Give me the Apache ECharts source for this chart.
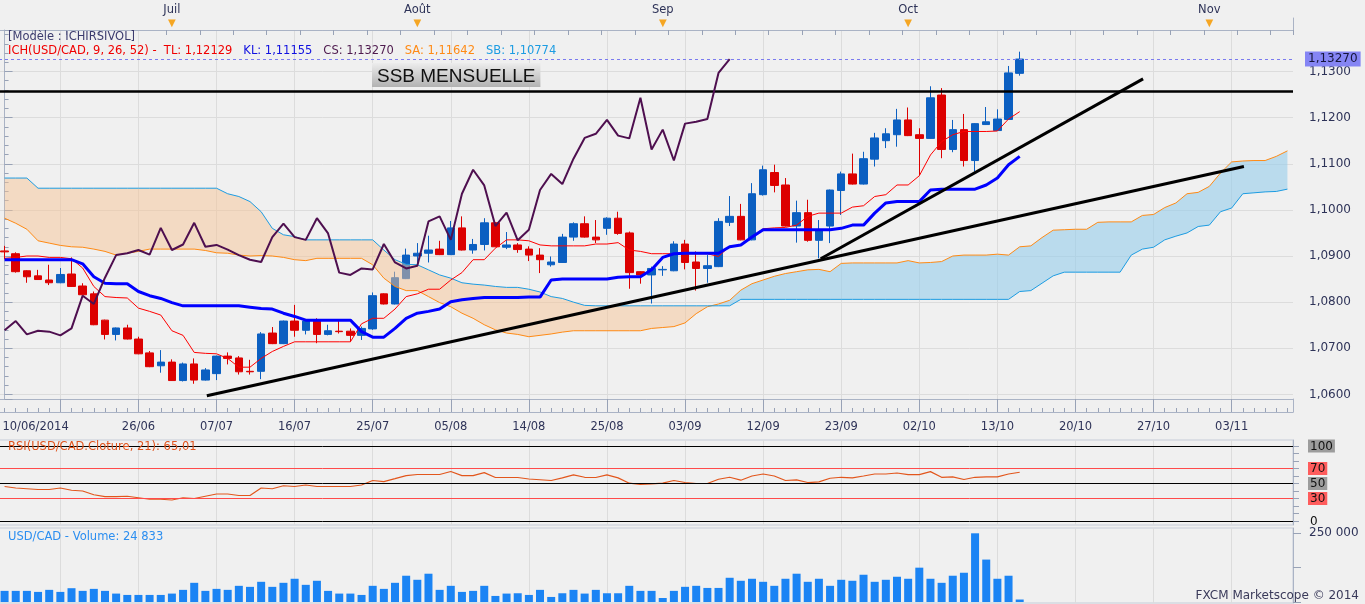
<!DOCTYPE html>
<html>
<head>
<meta charset="utf-8">
<title>USD/CAD - Ichimoku, RSI, Volume</title>
<script src="https://cdn.jsdelivr.net/npm/echarts@6/dist/echarts.min.js"></script>
<style>
  html, body { margin: 0; padding: 0; background: #f0f0f0; }
  #chart { width: 1365px; height: 604px; }
</style>
</head>
<body>
<div id="chart"></div>
<script>
// trading days up to 15/10, then calendar days for the projected cloud
const dates = [
  '10/06','11/06','12/06','13/06','16/06','17/06','18/06','19/06','20/06','23/06','24/06','25/06','26/06','27/06','30/06',
  '01/07','02/07','03/07','04/07','07/07','08/07','09/07','10/07','11/07','14/07','15/07','16/07','17/07','18/07','21/07',
  '22/07','23/07','24/07','25/07','28/07','29/07','30/07','31/07',
  '01/08','04/08','05/08','06/08','07/08','08/08','11/08','12/08','13/08','14/08','15/08','18/08','19/08','20/08','21/08',
  '22/08','25/08','26/08','27/08','28/08','29/08',
  '01/09','02/09','03/09','04/09','05/09','08/09','09/09','10/09','11/09','12/09','15/09','16/09','17/09','18/09','19/09',
  '22/09','23/09','24/09','25/09','26/09','29/09','30/09',
  '01/10','02/10','03/10','06/10','07/10','08/10','09/10','10/10','13/10','14/10','15/10',
  '16/10','17/10','18/10','19/10','20/10','21/10','22/10','23/10','24/10','25/10','26/10','27/10','28/10','29/10','30/10','31/10',
  '01/11','02/11','03/11','04/11','05/11','06/11','07/11','08/11'
];

const opens = [
  1.0911,1.0905,1.0868,1.0857,1.0848,1.0842,1.0861,1.0835,1.0818,1.0761,
  1.0730,1.0744,1.0720,1.0690,1.0662,1.0670,1.0630,1.0666,1.0631,1.0645,
  1.0683,1.0679,1.0650,1.0650,1.0733,1.0710,1.0759,1.0739,1.0759,1.0730,
  1.0737,1.0737,1.0728,1.0742,1.0818,1.0796,1.0851,1.0900,1.0906,1.0915,
  1.0903,1.0961,1.0913,1.0925,1.0972,1.0919,1.0924,1.0915,1.0902,1.0881,
  1.0886,1.0941,1.0970,1.0941,1.0960,1.0982,1.0950,1.0866,1.0859,1.0870,
  1.0868,1.0926,1.0887,1.0873,1.0877,1.0973,1.0986,1.0935,1.1033,1.1081,
  1.1054,1.0965,1.0994,1.0934,1.0965,1.1042,1.1078,1.1056,1.1110,1.1150,
  1.1163,1.1195,1.1163,1.1155,1.1249,1.1131,1.1174,1.1107,1.1185,1.1172,
  1.1196,1.1296
];
const closes = [
  1.0909,1.0866,1.0855,1.0849,1.0842,1.0860,1.0834,1.0816,1.0751,1.0730,
  1.0744,1.0720,1.0688,1.0660,1.0670,1.0630,1.0666,1.0631,1.0653,1.0683,
  1.0678,1.0649,1.0649,1.0731,1.0710,1.0759,1.0739,1.0759,1.0730,1.0738,
  1.0736,1.0728,1.0743,1.0814,1.0796,1.0853,1.0902,1.0906,1.0913,1.0903,
  1.0961,1.0913,1.0925,1.0972,1.0920,1.0924,1.0914,1.0902,1.0892,1.0887,
  1.0941,1.0970,1.0941,1.0935,1.0982,1.0949,1.0864,1.0859,1.0873,1.0871,
  1.0926,1.0886,1.0873,1.0879,1.0975,1.0986,1.0935,1.1035,1.1087,1.1053,
  1.0965,1.0994,1.0934,1.0957,1.1043,1.1078,1.1056,1.1111,1.1156,1.1165,
  1.1195,1.1161,1.1155,1.1243,1.1131,1.1174,1.1107,1.1187,1.1191,1.1197,
  1.1297,1.1327
];
const lows = [
  1.0893,1.0864,1.0842,1.0848,1.0837,1.0841,1.0833,1.0815,1.0750,1.0719,
  1.0717,1.0719,1.0687,1.0659,1.0647,1.0629,1.0628,1.0623,1.0630,1.0631,
  1.0665,1.0643,1.0643,1.0633,1.0709,1.0709,1.0725,1.0730,1.0711,1.0728,
  1.0732,1.0714,1.0718,1.0740,1.0795,1.0795,1.0850,1.0884,1.0886,1.0902,
  1.0902,1.0912,1.0905,1.0912,1.0919,1.0915,1.0907,1.0889,1.0863,1.0877,
  1.0885,1.0933,1.0940,1.0928,1.0946,1.0946,1.0829,1.0840,1.0797,1.0857,
  1.0867,1.0871,1.0825,1.0842,1.0876,1.0965,1.0934,1.0934,1.1031,1.1038,
  1.0964,1.0929,1.0931,1.0895,1.0928,1.0989,1.1055,1.1055,1.1094,1.1134,
  1.1137,1.1160,1.1075,1.1154,1.1112,1.1125,1.1094,1.1083,1.1184,1.1171,
  1.1195,1.1291
];
const highs = [
  1.0922,1.0908,1.0869,1.0870,1.0881,1.0874,1.0897,1.0841,1.0823,1.0762,
  1.0745,1.0751,1.0725,1.0694,1.0696,1.0676,1.0669,1.0678,1.0657,1.0684,
  1.0691,1.0683,1.0675,1.0735,1.0746,1.0760,1.0794,1.0760,1.0765,1.0751,
  1.0759,1.0743,1.0747,1.0821,1.0819,1.0866,1.0916,1.0928,1.0944,1.0933,
  1.0976,1.0986,1.0937,1.0982,1.0973,1.0952,1.0928,1.0921,1.0917,1.0899,
  1.0948,1.0973,1.0986,1.0978,1.0984,1.0996,1.0953,1.0867,1.0877,1.0878,
  1.0932,1.0935,1.0910,1.0902,1.0982,1.1030,1.1013,1.1058,1.1096,1.1098,
  1.1069,1.1020,1.1022,1.0978,1.1044,1.1083,1.1122,1.1126,1.1167,1.1177,
  1.1219,1.1222,1.1177,1.1268,1.1264,1.1195,1.1208,1.1188,1.1223,1.1218,
  1.1312,1.1343
];

const tenkan = [
  1.0895,1.0897,1.0900,1.0900,1.0897,1.0897,1.0894,1.0874,1.0834,1.0812,
  1.0810,1.0809,1.0787,1.0780,1.0772,1.0738,1.0728,1.0691,1.0689,1.0688,
  1.0678,1.0659,1.0659,1.0678,1.0693,1.0704,1.0714,1.0714,1.0714,1.0714,
  1.0714,1.0714,1.0753,1.0765,1.0765,1.0785,1.0812,1.0818,1.0828,1.0828,
  1.0848,1.0864,1.0892,1.0892,1.0917,1.0935,1.0935,1.0933,1.0924,1.0922,
  1.0922,1.0922,1.0922,1.0926,1.0926,1.0929,1.0913,1.0910,1.0905,1.0905,
  1.0905,1.0905,1.0905,1.0905,1.0899,1.0921,1.0924,1.0942,1.0959,1.0961,
  1.0962,1.0967,1.0986,1.0993,1.0993,1.0993,1.1006,1.1009,1.1029,1.1033,
  1.1054,1.1054,1.1074,1.1119,1.1148,1.1163,1.1170,1.1170,1.1170,1.1171,
  1.1197,1.1213
];
const kijun = [
  1.0892,1.0892,1.0892,1.0892,1.0892,1.0892,1.0892,1.0883,1.0855,1.0841,
  1.0840,1.0840,1.0823,1.0814,1.0808,1.0799,1.0792,1.0792,1.0792,1.0792,
  1.0792,1.0792,1.0789,1.0786,1.0785,1.0776,1.0769,1.0761,1.0761,1.0761,
  1.0761,1.0761,1.0736,1.0724,1.0724,1.0743,1.0765,1.0776,1.0780,1.0785,
  1.0801,1.0805,1.0808,1.0810,1.0810,1.0810,1.0810,1.0811,1.0811,1.0848,
  1.0850,1.0850,1.0850,1.0850,1.0850,1.0854,1.0855,1.0855,1.0870,1.0897,
  1.0905,1.0906,1.0906,1.0906,1.0906,1.0920,1.0924,1.0941,1.0957,1.0957,
  1.0957,1.0957,1.0957,1.0957,1.0957,1.0960,1.0967,1.0967,1.0993,1.1015,
  1.1018,1.1018,1.1018,1.1043,1.1045,1.1045,1.1045,1.1045,1.1054,1.1069,
  1.1098,1.1116
];
// closes plotted 26 bars back
const chikou = [
  1.0739,1.0759,1.0730,1.0738,1.0736,1.0728,1.0743,1.0814,1.0796,1.0853,
  1.0902,1.0906,1.0913,1.0903,1.0961,1.0913,1.0925,1.0972,1.0920,1.0924,
  1.0914,1.0902,1.0892,1.0887,1.0941,1.0970,1.0941,1.0935,1.0982,1.0949,
  1.0864,1.0859,1.0873,1.0871,1.0926,1.0886,1.0873,1.0879,1.0975,1.0986,
  1.0935,1.1035,1.1087,1.1053,1.0965,1.0994,1.0934,1.0957,1.1043,1.1078,
  1.1056,1.1111,1.1156,1.1165,1.1195,1.1161,1.1155,1.1243,1.1131,1.1174,
  1.1107,1.1187,1.1191,1.1197,1.1297,1.1327
];
const senkouA = [
  1.0982,1.0971,1.0958,1.0933,1.0928,1.0923,1.0920,1.0919,1.0915,1.0910,
  1.0902,1.0906,1.0910,1.0915,1.0915,1.0915,1.0915,1.0915,1.0912,1.0907,
  1.0906,1.0902,1.0900,1.0901,1.0900,1.0897,1.0892,1.0890,1.0895,1.0895,
  1.0895,1.0895,1.0895,1.0881,1.0852,1.0834,1.0825,1.0825,1.0812,1.0799,
  1.0790,1.0776,1.0765,1.0751,1.0740,1.0733,1.0730,1.0725,1.0728,1.0731,
  1.0735,1.0738,1.0738,1.0738,1.0738,1.0738,1.0738,1.0738,1.0743,1.0745,
  1.0747,1.0755,1.0775,1.0790,1.0796,1.0804,1.0826,1.0840,1.0848,1.0856,
  1.0862,1.0866,1.0870,1.0871,1.0866,1.0884,1.0885,1.0885,1.0885,1.0885,
  1.0885,1.0890,1.0885,1.0886,1.0888,1.0900,1.0902,1.0902,1.0902,1.0904,
  1.0902,1.0920,1.0922,1.0940,1.0956,1.0957,1.0958,1.0958,1.0973,1.0974,
  1.0974,1.0974,1.0988,1.0990,1.1005,1.1015,1.1035,1.1038,1.1051,1.1080,
  1.1104,1.1106,1.1107,1.1107,1.1116,1.1128
];
const senkouB = [
  1.1069,1.1069,1.1069,1.1047,1.1047,1.1047,1.1047,1.1047,1.1047,1.1047,
  1.1047,1.1047,1.1047,1.1047,1.1047,1.1047,1.1047,1.1047,1.1047,1.1047,
  1.1035,1.1029,1.1018,1.0996,1.0960,1.0946,1.0942,1.0935,1.0935,1.0935,
  1.0935,1.0935,1.0935,1.0935,1.0913,1.0892,1.0882,1.0881,1.0870,1.0859,
  1.0852,1.0842,1.0839,1.0837,1.0834,1.0832,1.0832,1.0828,1.0822,1.0812,
  1.0808,1.0800,1.0793,1.0792,1.0792,1.0792,1.0792,1.0792,1.0792,1.0792,
  1.0792,1.0792,1.0792,1.0792,1.0792,1.0792,1.0806,1.0806,1.0806,1.0806,
  1.0806,1.0806,1.0806,1.0806,1.0806,1.0806,1.0806,1.0806,1.0806,1.0806,
  1.0806,1.0806,1.0806,1.0806,1.0806,1.0806,1.0806,1.0806,1.0806,1.0806,
  1.0806,1.0823,1.0825,1.0841,1.0857,1.0865,1.0865,1.0865,1.0865,1.0865,
  1.0865,1.0902,1.0915,1.0919,1.0935,1.0943,1.0950,1.0964,1.0967,1.0996,
  1.1004,1.1035,1.1037,1.1039,1.1040,1.1045
];

const rsi = [
  46,44,43,42,42,44,41,40,35,32.5,
  32.5,33,31,29,29,28,31,30,33,36,
  36,34,34,44,43,47,46,48,46,46,
  46,46,48,54,52.6,56.5,60.5,62,62,62,
  66,60.5,60.5,64.5,58,58,58,56,55,54,
  57.5,61.4,58.3,58,61.4,57.5,50.4,48.7,49.6,50.4,
  54,51.3,50,50,55.7,58.3,54.4,60,62.7,60,
  54,54.8,51.3,52.2,57,58.3,57.5,60,62.7,62.7,
  64,61.8,61.8,65.8,58.3,58.8,55.3,58.3,58.8,58.8,
  62.7,65.01
];
const rsiLevels = [100, 70, 50, 30, 0];

const volume = [
  40300,40300,40300,36600,44000,36600,50000,40300,47600,40300,
  30500,25600,25600,25600,25600,30500,44000,69500,40300,47600,
  44000,58600,54900,73200,54900,69500,84200,62200,76900,40300,
  30500,30500,25600,58600,47600,69500,95200,80500,102500,44000,
  58600,36600,40300,58600,22000,30500,31700,25600,44000,18300,
  31700,44000,30500,44000,31700,31700,58600,40300,40300,14600,
  40300,55000,58600,51000,51000,87800,76900,84200,73200,58600,
  84200,102500,73200,84200,58600,80500,76900,98800,73200,80500,
  91500,84200,124400,84200,69500,95200,106000,248900,153700,84200,
  95200,9000
];

const monthIdx = [15, 37, 59, 81, 108];
const monthNames = ['Juil', 'Août', 'Sep', 'Oct', 'Nov'];

// drawn trend lines: [bar index, price]
const trendLow = [[18.13, 1.0597], [111.1, 1.1094]];
const trendSteep = [[73.16, 1.0894], [102.06, 1.1284]];
const ssbLevel = 1.1258;

const BULL = '#0b5fc1', BEAR = '#dc0000';
const GRID = '#dcdcdc', AXIS = '#aab3c5', TICK = '#98a2b6', TXT = '#2e3358';

const candleData = opens.map((o, i) => [o, closes[i], lows[i], highs[i]]);
const cloudBase = senkouA.map((a, i) => Math.min(a, senkouB[i]));
const cloudBear = senkouA.map((a, i) => senkouB[i] > a ? +(senkouB[i] - a).toFixed(5) : 0);
const cloudBull = senkouA.map((a, i) => a > senkouB[i] ? +(a - senkouB[i]).toFixed(5) : 0);

const isWeek = (i) => i % 7 === 5;
const isDateLabel = (i) => i === 0 || (i % 7 === 5 && i > 5);
const fmtPrice = (v, d) => v.toFixed(d).replace('.', ',');

const chart = echarts.init(document.getElementById('chart'));

const gridBase = { left: -1, width: 1294, outerBoundsMode: 'none', containLabel: false };
const catBase = { type: 'category', data: dates, boundaryGap: true };
const panelX = (gridIndex) => ({
  ...catBase, gridIndex,
  axisLine: { show: false }, axisTick: { show: false }, axisLabel: { show: false },
  splitLine: { show: true, interval: (i) => isWeek(i), alignWithLabel: true, lineStyle: { color: GRID } }
});
const stripY = (gridIndex) => ({
  type: 'value', gridIndex, position: 'right', min: 0, max: 1,
  axisLine: { show: true, lineStyle: { color: AXIS } },
  axisTick: { show: false }, axisLabel: { show: false }, splitLine: { show: false }
});
const lineSeries = (data, color, width, z) => ({
  type: 'line', xAxisIndex: 0, yAxisIndex: 0, data, symbol: 'none', silent: true, z,
  lineStyle: { color, width }
});

chart.setOption({
  animation: false,
  backgroundColor: '#f0f0f0',
  textStyle: { fontFamily: 'DejaVu Sans' },
  title: [
    { text: '[Modèle : ICHIRSIVOL]', left: 8, top: 31, padding: 0,
      textStyle: { fontSize: 11.5, fontWeight: 'normal', color: '#3c3c6e' } },
    { text: '{r|ICH(USD/CAD, 9, 26, 52) -  TL: 1,12129}   {b|KL: 1,11155}   {p|CS: 1,13270}   {o|SA: 1,11642}   {c|SB: 1,10774}',
      left: 8, top: 45, padding: 0,
      textStyle: { fontSize: 11.5, fontWeight: 'normal', rich: {
        r: { color: '#f00000', fontSize: 11.5 },
        b: { color: '#1010e0', fontSize: 11.5 },
        p: { color: '#4e1a4e', fontSize: 11.5 },
        o: { color: '#ff8a14', fontSize: 11.5 },
        c: { color: '#1c9ce2', fontSize: 11.5 }
      } } },
    { text: 'RSI(USD/CAD.Cloture, 21): 65,01', left: 8, top: 441, padding: 0,
      textStyle: { fontSize: 11.5, fontWeight: 'normal', color: '#e0541e' } },
    { text: 'USD/CAD - Volume: 24 833', left: 8, top: 531, padding: 0,
      textStyle: { fontSize: 11.5, fontWeight: 'normal', color: '#2b8ef0' } },
    { text: 'FXCM Marketscope © 2014', right: 6, bottom: 2, padding: 0,
      textStyle: { fontSize: 12, fontWeight: 'normal', color: '#3a3a5a' } }
  ],
  grid: [
    { ...gridBase, top: 30, height: 369 },
    { ...gridBase, top: 18, height: 12 },
    { ...gridBase, top: 399, height: 13 },
    { ...gridBase, top: 440, height: 85, show: true, borderColor: '#c6ccd8', borderWidth: 1 },
    { ...gridBase, top: 528, height: 75, show: true, borderColor: '#c6ccd8', borderWidth: 1 }
  ],
  xAxis: [
    { ...catBase, gridIndex: 0, position: 'bottom',
      axisLine: { show: true, lineStyle: { color: AXIS } },
      axisTick: { show: true, interval: (i) => isWeek(i), alignWithLabel: true, length: 13, lineStyle: { color: TICK } },
      axisLabel: { show: false },
      splitLine: { show: true, interval: (i) => isWeek(i), alignWithLabel: true, lineStyle: { color: GRID } } },
    { ...catBase, gridIndex: 0, position: 'top',
      axisLine: { show: true, lineStyle: { color: AXIS } },
      axisTick: { show: false },
      splitLine: { show: false },
      axisLabel: {
        interval: (i) => monthIdx.includes(i), margin: 1,
        formatter: (v, i) => '{m|' + monthNames[monthIdx.indexOf(i)] + '}\n{t|▼}',
        rich: {
          m: { fontSize: 11.5, color: TXT, lineHeight: 16 },
          t: { fontSize: 10, color: '#f5a623', lineHeight: 11 }
        } } },
    { type: 'value', gridIndex: 0, min: -0.5, max: dates.length - 0.5, show: false },
    { ...catBase, gridIndex: 1, position: 'top',
      axisLine: { show: true, lineStyle: { color: AXIS } },
      axisTick: { show: true, inside: true, length: 5, interval: 2, lineStyle: { color: TICK } },
      axisLabel: { show: false }, splitLine: { show: false } },
    { ...catBase, gridIndex: 2, position: 'bottom',
      axisLine: { show: true, lineStyle: { color: AXIS } },
      axisTick: { show: true, inside: true, length: 4, interval: 0, alignWithLabel: true, lineStyle: { color: TICK } },
      splitLine: { show: false },
      axisLabel: {
        interval: (i) => isDateLabel(i), margin: 9, color: TXT, fontSize: 11.5,
        formatter: (v, i) => i === 0 ? '{f|' + v + '/2014}' : v,
        rich: { f: { padding: [0, 0, 0, 62], fontSize: 11.5, color: TXT } } } },
    panelX(3),
    panelX(4)
  ],
  yAxis: [
    { type: 'value', gridIndex: 0, position: 'right', min: 1.059, max: 1.139,
      minInterval: 0.01, maxInterval: 0.01, splitNumber: 8,
      axisLine: { show: true, lineStyle: { color: AXIS } },
      axisTick: { show: true, length: 8, lineStyle: { color: TICK } },
      minorTick: { show: true, splitNumber: 5, length: 4, lineStyle: { color: TICK } },
      axisLabel: { margin: 16, color: TXT, fontSize: 12,
        formatter: (v) => Math.abs(v * 100 - Math.round(v * 100)) < 1e-6 ? fmtPrice(v, 4) : '' },
      splitLine: { show: true, lineStyle: { color: GRID } } },
    stripY(1),
    stripY(2),
    { type: 'value', gridIndex: 3, position: 'right', min: -5.33, max: 108,
      axisLine: { show: true, lineStyle: { color: AXIS } },
      axisTick: { show: true, length: 6, customValues: [0, 10, 20, 30, 40, 50, 60, 70, 80, 90, 100], lineStyle: { color: TICK } },
      splitLine: { show: false },
      axisLabel: { margin: 15, fontSize: 12, color: '#111', customValues: rsiLevels,
        formatter: (v) => (v === 70 || v === 30 ? '{r|' : v === 0 ? '{n|' : '{g|') + v + '}',
        rich: {
          g: { backgroundColor: '#9c9c9c', color: '#111', padding: [1, 2, 0, 2], fontSize: 12 },
          r: { backgroundColor: '#ff5c5c', color: '#111', padding: [1, 2, 0, 2], fontSize: 12 },
          n: { color: '#111', padding: [1, 2, 0, 2], fontSize: 12 }
        } } },
    { type: 'value', gridIndex: 4, position: 'right', min: -3600, max: 268100,
      axisLine: { show: true, lineStyle: { color: AXIS } },
      axisTick: { show: true, length: 8, customValues: [0, 125000, 250000], lineStyle: { color: TICK } },
      splitLine: { show: false },
      axisLabel: { margin: 16, fontSize: 12, color: TXT, customValues: [250000],
        formatter: (v) => String(v).replace(/\B(?=(\d{3})+(?!\d))/g, ' ') } }
  ],
  series: [
    { name: 'USD/CAD', type: 'candlestick', xAxisIndex: 0, yAxisIndex: 0, data: candleData,
      barWidth: 8, z: 2, silent: true,
      itemStyle: { color: BULL, color0: BEAR, borderColor: BULL, borderColor0: BEAR, borderWidth: 1 },
      markLine: {
        silent: true, symbol: ['none', 'none'], precision: 5,
        data: [{ yAxis: closes[closes.length - 1] }],
        lineStyle: { color: '#7b7bef', type: [3, 3], width: 1 },
        label: { position: 'end', distance: 12, fontSize: 12, color: '#15153a',
          backgroundColor: '#8585f4', padding: [2, 3, 1, 3],
          formatter: (p) => fmtPrice(p.value, 5) } } },
    { type: 'line', xAxisIndex: 0, yAxisIndex: 0, stack: 'cloud', data: cloudBase,
      symbol: 'none', silent: true, z: 3, lineStyle: { opacity: 0 } },
    { type: 'line', xAxisIndex: 0, yAxisIndex: 0, stack: 'cloud', data: cloudBear,
      symbol: 'none', silent: true, z: 3, lineStyle: { opacity: 0 },
      areaStyle: { color: 'rgba(245,195,150,0.5)', opacity: 1 } },
    { type: 'line', xAxisIndex: 0, yAxisIndex: 0, stack: 'cloud', data: cloudBull,
      symbol: 'none', silent: true, z: 3, lineStyle: { opacity: 0 },
      areaStyle: { color: 'rgba(150,205,235,0.6)', opacity: 1 } },
    lineSeries(senkouA, '#ff8a14', 1, 4),
    lineSeries(senkouB, '#1c9ce2', 1, 4),
    lineSeries(tenkan, '#ff0000', 1, 5),
    lineSeries(kijun, '#0000ff', 3, 5),
    lineSeries(chikou, '#4e0f4f', 2, 5),
    { type: 'line', xAxisIndex: 2, yAxisIndex: 0, data: trendLow, symbol: 'none', silent: true, z: 6,
      lineStyle: { color: '#000', width: 3 },
      markLine: {
        silent: true, symbol: ['none', 'none'], precision: 5,
        data: [{ yAxis: ssbLevel }],
        lineStyle: { color: '#000', width: 2.5, type: 'solid' },
        label: { position: 'insideStartTop', distance: [373, 4], formatter: 'SSB MENSUELLE',
          fontFamily: 'Liberation Sans', fontSize: 19, color: '#111', padding: [4, 5, 1, 5],
          backgroundColor: { type: 'linear', x: 0, y: 0, x2: 0, y2: 1,
            colorStops: [{ offset: 0, color: '#ededed' }, { offset: 1, color: '#b2b2b2' }] } } } },
    { type: 'line', xAxisIndex: 2, yAxisIndex: 0, data: trendSteep, symbol: 'none', silent: true, z: 6,
      lineStyle: { color: '#000', width: 3 } },
    { type: 'line', xAxisIndex: 5, yAxisIndex: 3, data: rsi, symbol: 'none', silent: true, z: 4,
      lineStyle: { color: '#e2561c', width: 1.2 },
      markLine: {
        silent: true, symbol: ['none', 'none'], label: { show: false },
        lineStyle: { type: 'solid', width: 1 },
        data: rsiLevels.map((v) => ({ yAxis: v, lineStyle: { color: v === 70 || v === 30 ? '#ff4a4a' : '#000' } })) } },
    { type: 'bar', xAxisIndex: 6, yAxisIndex: 4, data: volume, barWidth: 8, silent: true,
      itemStyle: { color: '#1b84f4' } }
  ]
});
</script>
</body>
</html>
